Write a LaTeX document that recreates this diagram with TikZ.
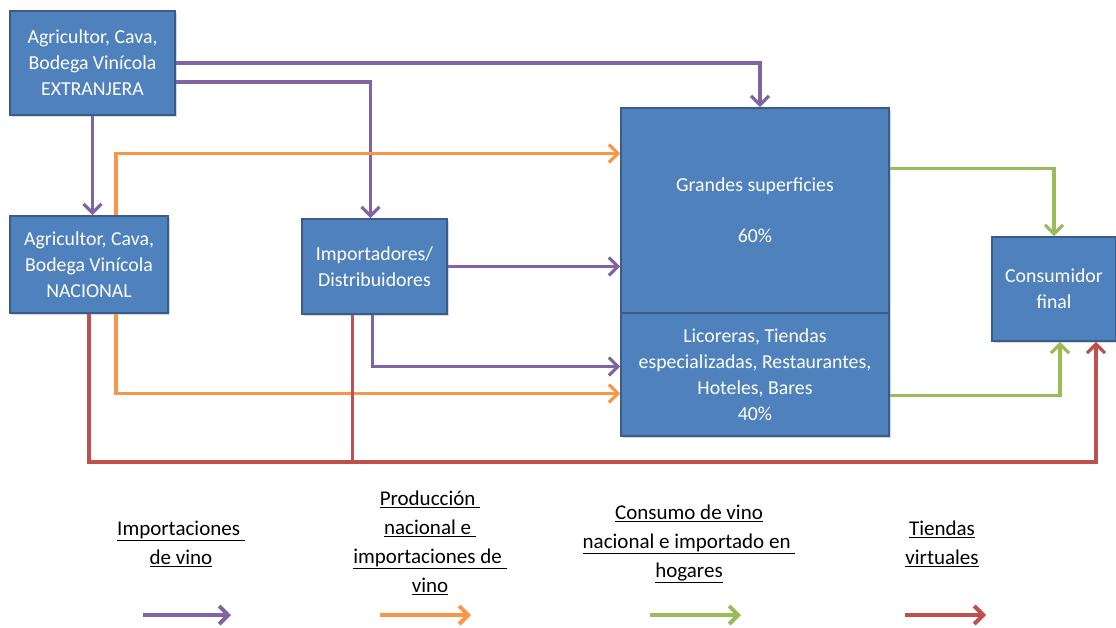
\documentclass[tikz,border=0pt]{standalone}
\usepackage{fontspec}
\setmainfont{Carlito}
\usetikzlibrary{arrows.meta,shadows}
\definecolor{azul}{HTML}{4F81BD}
\definecolor{borde}{HTML}{385D8A}
\definecolor{morado}{HTML}{8064A2}
\definecolor{naranja}{HTML}{F79646}
\definecolor{verde}{HTML}{9BBB59}
\definecolor{rojo}{HTML}{C0504D}
\tikzstyle{caja}=[rectangle,draw=borde,line width=1.8pt,fill=azul,text=white,align=center,inner sep=2pt,font=\fontsize{19.8}{26}\selectfont,drop shadow={shadow xshift=1.5pt,shadow yshift=-1.5pt,opacity=0.3}]
\tikzstyle{flecha}=[line width=3.2pt,-{Straight Barb[length=9pt,width=18pt]}]
\tikzstyle{linea}=[line width=3.2pt]
\tikzstyle{leyenda}=[align=center,font=\fontsize{21}{29}\selectfont]
\newcommand{\su}[1]{\underline{#1}}

\begin{document}
\begin{tikzpicture}[x=1pt,y=-1pt]
\useasboundingbox (0,0) rectangle (1116,627);

% cajas
\node[caja,minimum width=165pt,minimum height=104pt] (ext) at (92.5,63) {Agricultor, Cava,\\Bodega Vinícola\\EXTRANJERA};
\node[caja,minimum width=158pt,minimum height=97pt] (nac) at (89,264.5) {Agricultor, Cava,\\Bodega Vinícola\\NACIONAL};
\node[caja,minimum width=145pt,minimum height=95pt] (imp) at (374.5,266.5) {Importadores/\\Distribuidores};
\node[caja,minimum width=268pt,minimum height=205pt] (gs) at (755,210.5) {Grandes superficies\\[25pt]60\%};
\node[caja,minimum width=268pt,minimum height=123pt] (lic) at (755,374.5) {Licoreras, Tiendas\\especializadas, Restaurantes,\\Hoteles, Bares\\40\%};
\node[caja,minimum width=124pt,minimum height=104pt] (cons) at (1054,289) {Consumidor\\final};

\coordinate (rbase) at (0,462);

% importaciones
\draw[flecha,morado] (ext.east) -| ([xshift=5pt]gs.north);
\draw[flecha,morado] ([yshift=-19pt]ext.east) -| ([xshift=-4pt]imp.north);
\draw[flecha,morado] (ext.south) -- (ext.south |- nac.north);
\draw[flecha,morado] (imp.east) -- (imp.east -| gs.west);
\draw[flecha,morado] ([xshift=-2pt]imp.south) |- ([yshift=8pt]lic.west);

% produccion nacional
\draw[flecha,naranja] ([xshift=27pt]nac.north) |- ([yshift=57pt]gs.west);
\draw[flecha,naranja] ([xshift=27pt]nac.south) |- ([yshift=-19pt]lic.west);

% tiendas virtuales
\draw[linea,rojo] ([xshift=-22pt]imp.south) -- ([xshift=-22pt]imp.south |- rbase);
\draw[flecha,rojo] (nac.south) -- (nac.south |- rbase) -| ([xshift=42pt]cons.south);

% consumo
\draw[flecha,verde] ([yshift=42pt]gs.east) -| (cons.north);
\draw[flecha,verde] ([yshift=-21pt]lic.east) -| ([xshift=6pt]cons.south);

% leyenda
\node[leyenda] (l1) at (181,544) {\su{Importaciones\ }\\\su{de vino}};
\node[leyenda] (l2) at (430,542.5) {\su{Producción\ }\\\su{nacional e\ }\\\su{importaciones de\ }\\\su{vino}};
\node[leyenda] (l3) at (689,544) {\su{Consumo de vino}\\\su{nacional e importado en\ }\\\su{hogares}};
\node[leyenda] (l4) at (942,544) {\su{Tiendas}\\\su{virtuales}};

\coordinate (m1a) at (143,615);
\coordinate (m1b) at (231,615);
\coordinate (m2a) at (380,615);
\coordinate (m2b) at (471,615);
\coordinate (m3a) at (650,615);
\coordinate (m3b) at (741,615);
\coordinate (m4a) at (905,615);
\coordinate (m4b) at (986,615);
\draw[flecha,morado,line width=4pt] (m1a) -- (m1b);
\draw[flecha,naranja,line width=4pt] (m2a) -- (m2b);
\draw[flecha,verde,line width=4pt] (m3a) -- (m3b);
\draw[flecha,rojo,line width=4pt] (m4a) -- (m4b);

\end{tikzpicture}
\end{document}
